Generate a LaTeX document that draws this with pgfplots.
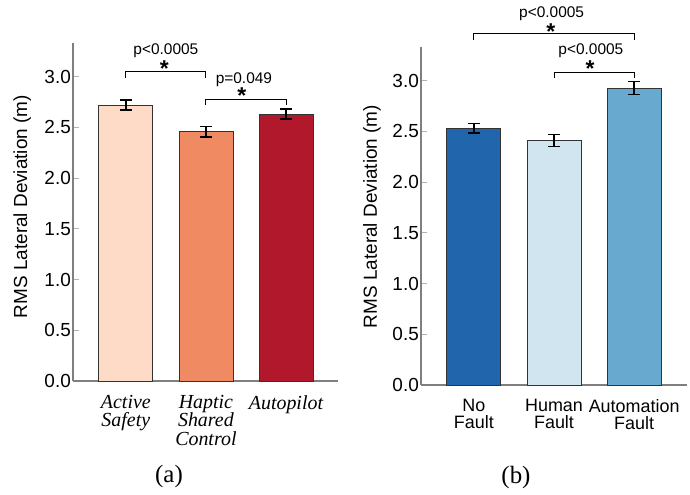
\documentclass[border=0pt]{standalone}
\usepackage{pgfplots}
\pgfplotsset{compat=1.18}
\usepackage{fontspec}
\setmainfont{Liberation Sans}
\newfontfamily\timesfont{Liberation Serif}
\definecolor{ra}{HTML}{FDDBC7}
\definecolor{rb}{HTML}{EF8A62}
\definecolor{rc}{HTML}{B2182B}
\definecolor{ba}{HTML}{2166AC}
\definecolor{bb}{HTML}{D1E5F0}
\definecolor{bc}{HTML}{67A9CF}
\definecolor{axgray}{HTML}{7F7F7F}
\pgfplotsset{
  myax/.style={
    scale only axis, height=338bp,
    ymin=0, ymax=3.33, xmin=-0.66, xmax=2.65,
    enlargelimits=false, clip=false,
    axis x line*=bottom, axis y line*=left,
    axis line style={draw=axgray, line width=1.2bp},
    ytick={0,0.5,1,1.5,2,2.5,3},
    /pgf/number format/fixed, /pgf/number format/fixed zerofill,
    /pgf/number format/precision=1, /pgf/number format/assume math mode=true,
    yticklabel style={font=\fontsize{19}{19}\selectfont, inner sep=1bp, xshift=-1bp},
    tick align=inside, major tick length=6bp,
    y tick style={draw=gray!60, line width=0.8bp},
    xtick={0,1,2}, x tick style={draw=none},
    ybar, bar width=54bp,
    ylabel={RMS Lateral Deviation (m)},
    ylabel style={font=\fontsize{19}{19}\selectfont, anchor=center},
  },
  mybar/.style={fill=#1, draw=black!80, line width=0.8bp, bar shift=0pt,
    error bars/.cd, y dir=both, y explicit,
    error bar style={black, line width=1.5bp},
    error mark options={rotate=90, mark size=6bp, line width=1.5bp, black}},
}
\begin{document}
\begin{tikzpicture}
\useasboundingbox (0,0) rectangle (690bp,-495bp);
% (a)
\begin{axis}[myax, width=265bp, at={(73bp,-381bp)}, anchor=south west,
  ylabel style={at={(axis description cs:-0.192,0.516)}},
  xticklabels={{Active\\Safety},{Haptic\\Shared\\Control},{Autopilot}},
  xticklabel style={font=\timesfont\itshape\fontsize{20}{18.5}\selectfont, align=center, inner sep=0pt, yshift=-8bp},
]
\addplot+[mybar=ra] coordinates {(0,2.72) +- (0,0.05)};
\addplot+[mybar=rb] coordinates {(1,2.455) +- (0,0.05)};
\addplot+[mybar=rc] coordinates {(2,2.63) +- (0,0.05)};
\draw[black, line width=0.9bp] (axis cs:0,2.99) -- (axis cs:0,3.05) -- (axis cs:1,3.05) -- (axis cs:1,2.99);
\draw[black, line width=0.9bp] (axis cs:1,2.715) -- (axis cs:1,2.77) -- (axis cs:2,2.77) -- (axis cs:2,2.72);
\node[anchor=base, font=\fontsize{15.5}{15.5}\selectfont, inner sep=0pt] at (axis cs:0.5,3.215) {p<0.0005};
\node[anchor=base, font=\bfseries\fontsize{23}{23}\selectfont, inner sep=0pt] at (axis cs:0.48,3.0) {*};
\node[anchor=base, font=\fontsize{15.5}{15.5}\selectfont, inner sep=0pt] at (axis cs:1.475,2.93) {p=0.049};
\node[anchor=base, font=\bfseries\fontsize{23}{23}\selectfont, inner sep=0pt] at (axis cs:1.45,2.73) {*};
\end{axis}
% (b)
\begin{axis}[myax, width=266bp, at={(421bp,-385bp)}, anchor=south west,
  xmax=2.66,
  ylabel style={at={(axis description cs:-0.184,0.4985)}},
  xticklabels={{No\\Fault},{Human\\Fault},{Automation\\Fault}},
  xticklabel style={font=\fontsize{18}{17.5}\selectfont, align=center, inner sep=0pt, yshift=-8bp},
]
\addplot+[mybar=ba] coordinates {(0,2.53) +- (0,0.045)};
\addplot+[mybar=bb] coordinates {(1,2.41) +- (0,0.06)};
\addplot+[mybar=bc] coordinates {(2,2.925) +- (0,0.065)};
\draw[black, line width=0.9bp] (axis cs:0,3.40) -- (axis cs:0,3.46) -- (axis cs:2,3.46) -- (axis cs:2,3.40);
\draw[black, line width=0.9bp] (axis cs:1,3.02) -- (axis cs:1,3.08) -- (axis cs:2,3.08) -- (axis cs:2,3.02);
\node[anchor=base, font=\fontsize{15.5}{15.5}\selectfont, inner sep=0pt] at (axis cs:0.97,3.62) {p<0.0005};
\node[anchor=base, font=\bfseries\fontsize{23}{23}\selectfont, inner sep=0pt] at (axis cs:0.96,3.40) {*};
\node[anchor=base, font=\fontsize{15.5}{15.5}\selectfont, inner sep=0pt] at (axis cs:1.46,3.26) {p<0.0005};
\node[anchor=base, font=\bfseries\fontsize{23}{23}\selectfont, inner sep=0pt] at (axis cs:1.45,3.04) {*};
\end{axis}
\node[anchor=base, font=\timesfont\fontsize{25}{25}\selectfont, inner sep=0pt] at (169bp,-482bp) {(a)};
\node[anchor=base, font=\timesfont\fontsize{25}{25}\selectfont, inner sep=0pt] at (516bp,-483bp) {(b)};
\end{tikzpicture}
\end{document}
